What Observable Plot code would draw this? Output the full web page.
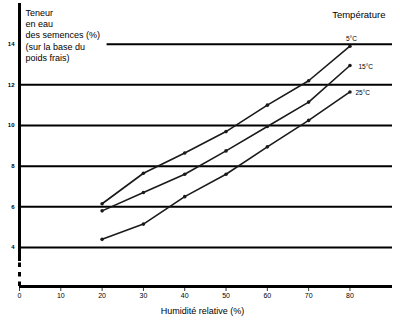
<!DOCTYPE html>
<html>
<head>
<meta charset="utf-8">
<script src="https://cdn.jsdelivr.net/npm/d3@7"></script>
<script src="https://cdn.jsdelivr.net/npm/@observablehq/plot@0.6"></script>
<style>
  html, body { margin: 0; padding: 0; background: #fff; }
  #chart svg { display: block; }
</style>
</head>
<body>
<div id="chart"></div>
<script>
// Data
const humidity = [20, 30, 40, 50, 60, 70, 80];
const t5  = [6.15, 7.65, 8.65, 9.7, 11.0, 12.2, 13.9];
const t15 = [5.8, 6.7, 7.6, 8.75, 9.95, 11.15, 12.95];
const t25 = [4.4, 5.15, 6.5, 7.6, 8.95, 10.25, 11.65];
const seriesLabels = ["5°C", "15°C", "25°C"];
const yTicks = [4, 6, 8, 10, 12, 14];
const xTicks = [0, 10, 20, 30, 40, 50, 60, 70, 80];
const yTitle = "Teneur\nen eau\ndes semences (%)\n(sur la base du\npoids frais)";
const xTitle = "Humidité relative (%)";
const legendTitle = "Température";

const seriesValues = [t5, t15, t25];
const rows = seriesLabels.flatMap((s, i) =>
  humidity.map((h, j) => ({series: s, h, v: seriesValues[i][j]}))
);

const xMax = 90.3, yMin = 2.08, yMax = 16;
const lastOf = s => rows.filter(d => d.series === s && d.h === humidity[humidity.length - 1]);
const ink = "#1a1a1a";

const chart = Plot.plot({
  width: 400,
  height: 325,
  marginLeft: 19,
  marginRight: 8,
  marginTop: 3,
  marginBottom: 39,
  x: {domain: [0, xMax]},
  y: {domain: [yMin, yMax]},
  style: {fontFamily: "'Liberation Sans', Arial, Helvetica, sans-serif", background: "#fff", color: "#000"},
  marks: [
    // horizontal gridlines
    Plot.ruleY(yTicks, {y: d => d, x1: d => d === 14 ? 21.2 : 0, x2: xMax, stroke: "#000", strokeWidth: 2}),
    // left axis (solid + broken part)
    Plot.ruleX([0], {y1: 3.31, y2: yMax, stroke: "#000", strokeWidth: 3}),
    Plot.ruleX([0], {y1: yMin, y2: 3.31, stroke: "#000", strokeWidth: 3, strokeDasharray: "4.5,5"}),
    // bottom axis line
    Plot.ruleY([yMin], {x1: 0, x2: xMax, stroke: "#000", strokeWidth: 3}),
    Plot.axisY(yTicks, {tickSize: 0, tickPadding: 5, fontSize: 6, fontWeight: "bold", label: null}),
    Plot.axisX(xTicks, {tickSize: 5, tickPadding: 2, fontSize: 7, label: null, strokeWidth: 0.8}),
    // series
    Plot.line(rows, {x: "h", y: "v", z: "series", stroke: ink, strokeWidth: 1.6}),
    Plot.dot(rows, {x: "h", y: "v", r: 1.8, fill: ink}),
    Plot.text(lastOf("5°C"), {x: "h", y: "v", text: "series", dx: 1.5, dy: -7.5, fontSize: 6.5}),
    Plot.text(lastOf("15°C"), {x: "h", y: "v", text: "series", textAnchor: "start", dx: 8.5, dy: 1, fontSize: 6.5}),
    Plot.text(lastOf("25°C"), {x: "h", y: "v", text: "series", textAnchor: "start", dx: 5.5, dy: 0.5, fontSize: 6.5}),
    // titles
    Plot.text([legendTitle], {frameAnchor: "top-right", textAnchor: "end", lineAnchor: "middle", dx: -7, dy: 11, fontSize: 9.5}),
    Plot.text([yTitle], {frameAnchor: "top-left", textAnchor: "start", lineAnchor: "top", dx: 6, dy: 4, fontSize: 9, lineHeight: 1.27}),
    Plot.text([xTitle], {frameAnchor: "bottom", x: 44.3, dy: 27, fontSize: 9})
  ]
});
document.getElementById("chart").appendChild(chart);
</script>
</body>
</html>
